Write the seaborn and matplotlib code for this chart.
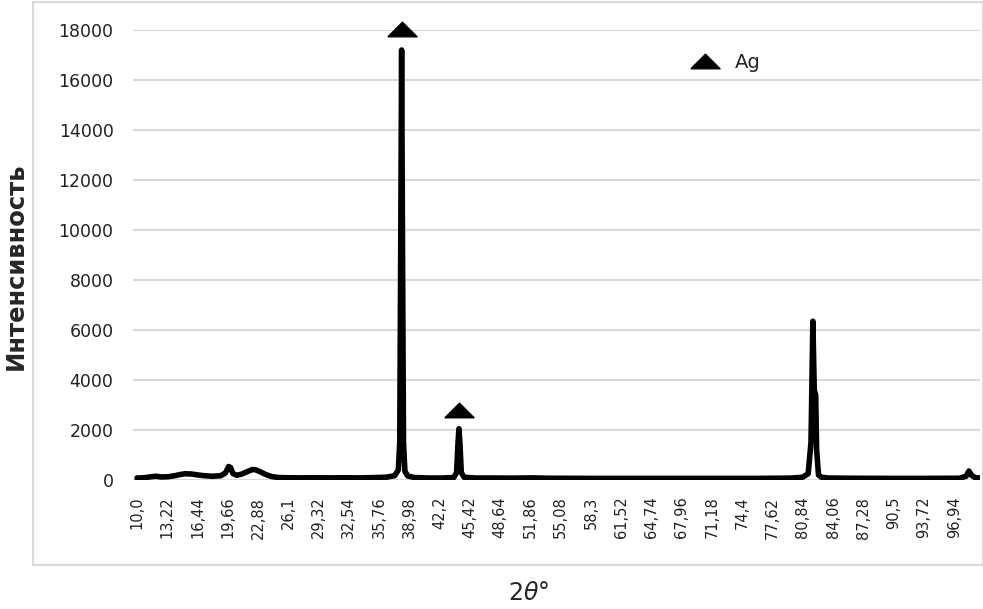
import numpy as np
import pandas as pd
import seaborn as sns
import matplotlib.pyplot as plt
from matplotlib.lines import Line2D
from matplotlib.patches import Rectangle


# XRD pattern (2theta in degrees, intensity in counts)
two_theta = [10.0, 10.8, 11.5, 12.0, 12.6, 13.3, 14.0, 14.6, 15.1, 15.8,
             16.5, 17.2, 18.0, 18.9, 19.4, 19.75, 19.95, 20.2, 20.6, 21.1,
             21.7, 22.3, 22.6, 23.1, 23.7, 24.3, 25.0, 26.0, 27.5, 29.0,
             30.5, 32.0, 33.5, 35.0, 36.5, 37.4, 37.8, 37.95, 38.05, 38.15,
             38.25, 38.35, 38.5, 38.8, 39.5, 41.0, 42.5, 43.7, 44.0, 44.15,
             44.25, 44.35, 44.5, 44.8, 46.0, 48.0, 50.0, 52.0, 54.0, 58.0,
             64.0, 70.0, 76.0, 79.5, 80.8, 81.4, 81.7, 81.9, 82.05, 82.2,
             82.3, 82.5, 82.8, 83.5, 86.0, 90.0, 94.0, 97.5, 98.2, 98.5,
             98.8, 99.2, 99.7]
intensity = [80, 90, 130, 150, 120, 130, 170, 220, 250, 240,
             200, 170, 150, 170, 280, 540, 500, 260, 190, 230,
             330, 420, 410, 330, 220, 140, 100, 90, 85, 90,
             85, 90, 85, 95, 110, 170, 400, 1500, 9000, 17200,
             9000, 1500, 350, 160, 100, 80, 80, 100, 300, 1500,
             2050, 1500, 300, 110, 80, 80, 75, 85, 70, 65,
             65, 65, 65, 75, 110, 250, 1500, 6350, 3600, 3400,
             1200, 200, 110, 80, 70, 65, 65, 70, 150, 360,
             180, 90, 80]

# Ag reflections marked with triangles
ag_x = [38.15, 44.25]
ag_y = [18050, 2800]

# category-style tick labels as shown on the original axis
tick_pos = [10.0 + 3.22 * i for i in range(28)]
tick_labels = ['10,0', '13,22', '16,44', '19,66', '22,88', '26,1', '29,32',
               '32,54', '35,76', '38,98', '42,2', '45,42', '48,64', '51,86',
               '55,08', '58,3', '61,52', '64,74', '67,96', '71,18', '74,4',
               '77,62', '80,84', '84,06', '87,28', '90,5', '93,72', '96,94']

y_ticks = list(range(0, 18001, 2000))

sns.set_theme(style='white')
plt.rcParams['font.family'] = ['DejaVu Sans']

df = pd.DataFrame({'two_theta': two_theta, 'intensity': intensity})

W, H = 983, 609
fig = plt.figure(figsize=(W / 100, H / 100), dpi=100)
ax = fig.add_axes([133 / W, 1 - 480 / H, (980 - 133) / W, (480 - 30) / H])

ax.yaxis.grid(True, color='#d9d9d9', lw=1.5)
ax.set_axisbelow(True)

sns.lineplot(data=df, x='two_theta', y='intensity', color='black', lw=4,
             ax=ax, estimator=None, sort=False)

# flattened triangle marker
tri = [(-1, -0.5), (1, -0.5), (0, 0.5), (-1, -0.5)]
ax.plot(ag_x, ag_y, ls='none', marker=tri, ms=21, color='black', clip_on=False)

ax.set_xlim(9.574, 99.68)
ax.set_ylim(0, 18000)
ax.set_xticks(tick_pos)
ax.set_xticklabels(tick_labels, rotation=90, va='top', ha='center')
ax.set_yticks(y_ticks)
ax.set_yticklabels([str(v) for v in y_ticks])
ax.tick_params(axis='x', length=0, pad=12, labelsize=10.5, colors='#222222')
ax.tick_params(axis='y', length=0, pad=14, labelsize=12.5, colors='#222222')
ax.set_xlabel('')
ax.set_ylabel('')
sns.despine(ax=ax, left=True, bottom=True)

handle = Line2D([], [], ls='none', marker=tri, ms=21, color='black', label='Ag')
ax.legend(handles=[handle], loc='center left', frameon=False, fontsize=14,
          bbox_to_anchor=((678 - 133) / 847, 1 - (62 - 30) / 450),
          handletextpad=0.5, borderaxespad=0)

fig.text(16 / W, 1 - 266 / H, 'Интенсивность', rotation=90, ha='center',
         va='center', fontsize=17.5, fontweight='bold')
fig.text(529 / W, 1 - 593 / H, '2$\\theta$°', ha='center', va='center',
         fontsize=17)

fig.add_artist(Rectangle((33 / W, 1 - 565 / H), (W - 33) / W, (565 - 2) / H,
                         transform=fig.transFigure, fill=False,
                         edgecolor='#d9d9d9', lw=1.5))

fig.savefig('out.png', dpi=100)
